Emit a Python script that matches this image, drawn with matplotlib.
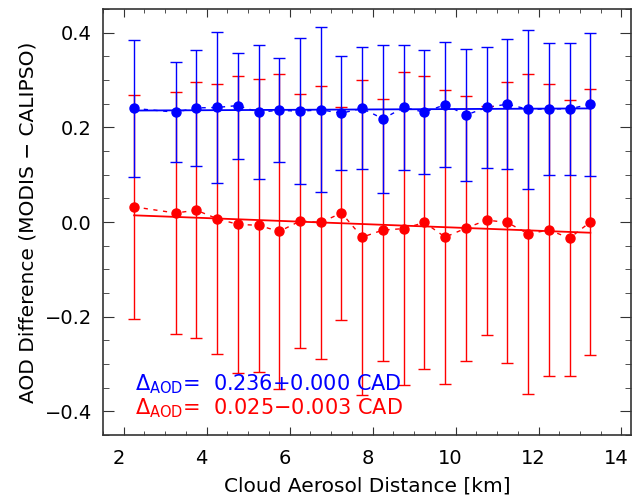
import numpy as np
import matplotlib
matplotlib.use('Agg')
import matplotlib.pyplot as plt
import matplotlib.transforms as mtransforms
from matplotlib.ticker import AutoMinorLocator

# bin centres of cloud-aerosol distance [km]
cad = [2.25, 3.25, 3.75, 4.25, 4.75, 5.25, 5.75, 6.25, 6.75, 7.25, 7.75,
       8.25, 8.75, 9.25, 9.75, 10.25, 10.75, 11.25, 11.75, 12.25, 12.75, 13.25]

# MODIS - CALIPSO, mean and standard deviation per bin
blue_mean = [0.240, 0.232, 0.241, 0.242, 0.246, 0.232, 0.236, 0.234, 0.237, 0.230, 0.240,
             0.218, 0.242, 0.232, 0.248, 0.226, 0.242, 0.249, 0.238, 0.239, 0.239, 0.249]
blue_std = [0.145, 0.106, 0.123, 0.160, 0.112, 0.142, 0.110, 0.154, 0.174, 0.121, 0.129,
            0.157, 0.133, 0.131, 0.132, 0.139, 0.128, 0.138, 0.168, 0.139, 0.139, 0.151]

red_mean = [0.032, 0.019, 0.025, 0.007, -0.005, -0.007, -0.020, 0.002, -0.001, 0.019, -0.032,
            -0.017, -0.014, -0.001, -0.032, -0.013, 0.004, -0.001, -0.025, -0.017, -0.034, 0.000]
red_std = [0.236, 0.256, 0.271, 0.285, 0.313, 0.309, 0.332, 0.269, 0.289, 0.225, 0.333,
           0.276, 0.331, 0.309, 0.310, 0.280, 0.242, 0.296, 0.338, 0.309, 0.291, 0.280]

blue_text = r'$\Delta_{\mathrm{AOD}}$=  0.236+0.000 CAD'
red_text = r'$\Delta_{\mathrm{AOD}}$=  0.025$-$0.003 CAD'

plt.rcParams['font.family'] = 'DejaVu Sans'
plt.rcParams['mathtext.fontset'] = 'dejavusans'

fig = plt.figure(figsize=(6.32, 4.97), dpi=100)
ax = fig.add_axes([103 / 632, 62 / 497, 528 / 632, 426 / 497])

x = np.array(cad)
for mean, std, col in [(red_mean, red_std, 'red'), (blue_mean, blue_std, 'blue')]:
    ax.errorbar(x, mean, yerr=std, fmt='o', color=col, ms=6.5, elinewidth=1.0,
                capsize=4, capthick=1.0, zorder=3)
    ax.plot(x, mean, color=col, linestyle=(0, (3, 4)), lw=1.0, zorder=2)
    k, b = np.polyfit(x, mean, 1)
    ax.plot([x[0], x[-1]], [b + k * x[0], b + k * x[-1]], color=col, lw=1.3, zorder=2)

ax.text(2.27, -0.355, blue_text, color='blue', fontsize=15, va='baseline')
ax.text(2.27, -0.406, red_text, color='red', fontsize=15, va='baseline')

ax.set_xlim(1.5, 14.23)
ax.set_ylim(-0.45, 0.45)
ax.set_xticks([2, 4, 6, 8, 10, 12, 14])
ax.set_yticks([-0.4, -0.2, 0.0, 0.2, 0.4])
ax.xaxis.set_minor_locator(AutoMinorLocator(4))
ax.yaxis.set_minor_locator(AutoMinorLocator(4))
ax.tick_params(which='both', direction='in', top=True, right=True, labelsize=14, color='#333333')
ax.tick_params(axis='x', which='major', length=6, pad=10)
ax.tick_params(axis='x', which='minor', length=3)
ax.tick_params(axis='y', which='major', length=8, pad=8)
ax.tick_params(axis='y', which='minor', length=4)
for s in ax.spines.values():
    s.set_color('#333333')
    s.set_linewidth(1.2)

# x tick labels sit a little left of their ticks, as in the original
shift = mtransforms.ScaledTranslation(-0.05, 0, fig.dpi_scale_trans)
for lab in ax.get_xticklabels():
    lab.set_transform(lab.get_transform() + shift)

ax.set_xlabel('Cloud Aerosol Distance [km]', fontsize=14.5, labelpad=6)
ax.set_ylabel('AOD Difference (MODIS \u2212 CALIPSO)', fontsize=14.5, labelpad=5)

fig.savefig('out.png', dpi=100)
